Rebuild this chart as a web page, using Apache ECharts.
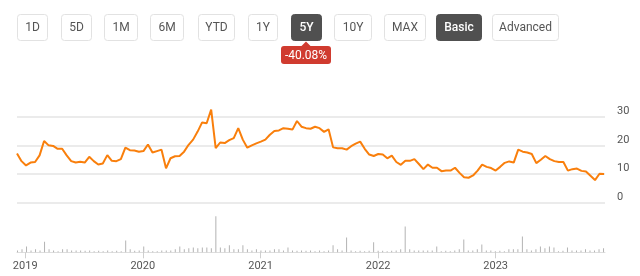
<!DOCTYPE html>
<html>
<head>
<meta charset="utf-8">
<script src="https://cdn.jsdelivr.net/npm/echarts@6/dist/echarts.min.js"></script>
<style>
html, body { margin: 0; padding: 0; background: #fff; }
#chart { width: 640px; height: 276px; }
</style>
</head>
<body>
<div id="chart"></div>
<script>
// sampled every two weeks starting from the first day shown
var startDate = [2018, 11, 8];
var endDate = [2023, 11, 5];
var stepDays = 14;

var prices = [
  17.2, 14.5, 13, 14, 14.2, 16.5, 21.5, 20, 19.8, 18.8,
  18.8, 16.5, 14.5, 14, 14.3, 14, 16, 14.5, 13.3, 13.7,
  16.6, 14.6, 14.5, 15.2, 19.2, 18.3, 18.2, 17.8, 18, 20.3,
  17.5, 18, 18.5, 12, 15.5, 16.2, 16.3, 17.8, 20.2, 22,
  24.8, 28, 27.7, 32.5, 19, 21, 20.8, 21.8, 22.5, 26,
  22, 19.2, 20, 20.7, 21.3, 22, 23.7, 25, 25.2, 26,
  25.8, 25.5, 28.5, 26.5, 26, 25.8, 26.5, 26, 24.7, 25.6,
  19.3, 19, 19, 18.5, 19.7, 20.6, 21.3, 18.8, 16.8, 16.3,
  17, 16.8, 15.5, 16.4, 14.2, 13.2, 14.6, 14.6, 15.2, 13.5,
  11.7, 13.3, 12.2, 12.2, 11, 11.2, 11.2, 12.2, 10.4, 8.9,
  8.7, 9.5, 11.2, 13.3, 12.5, 12.1, 11.2, 12.5, 13.9, 14.4,
  14, 18.5, 17.8, 17.5, 17, 13.8, 15, 16.3, 15.2, 14.5,
  14.2, 14.2, 11.2, 11.7, 11.9, 11.1, 10.9, 9.4, 7.9, 10.1, 10
];

// volume, millions of shares
var volumes = [
  0.5, 0.8, 1.6, 0.5, 0.8, 0.5, 2.9, 0.8, 0.5, 0.3,
  0.8, 0.8, 0.5, 0.5, 0.5, 0.4, 0.5, 0.3, 0.4, 0.3,
  0.5, 0.3, 0.4, 0.3, 3.2, 0.8, 0.4, 0.5, 1.6, 0.5,
  0.3, 0.3, 0.5, 0.5, 0.5, 0.8, 1.6, 0.8, 1.1, 1.3,
  1.1, 1.3, 1.3, 1.1, 9.8, 1.3, 1.1, 1.9, 0.8, 0.8,
  1.9, 0.8, 0.5, 0.8, 0.5, 0.5, 0.5, 0.8, 0.8, 0.5,
  1.3, 0.5, 0.4, 0.5, 0.4, 0.5, 0.3, 0.5, 0.3, 0.5,
  1.9, 0.8, 0.5, 4.0, 0.5, 0.3, 0.4, 0.3, 0.4, 2.7,
  0.4, 0.4, 0.3, 0.4, 0.5, 0.8, 7.0, 0.8, 0.5, 0.5,
  0.5, 0.5, 0.5, 1.6, 0.3, 0.4, 0.3, 0.5, 0.8, 3.5,
  0.5, 0.5, 0.8, 2.1, 0.5, 0.5, 0.3, 0.4, 0.3, 0.8,
  0.8, 0.8, 4.3, 0.8, 0.5, 0.8, 1.6, 1.1, 1.6, 1.3,
  0.3, 0.4, 1.3, 0.5, 0.5, 0.5, 0.8, 0.5, 0.5, 0.8, 1.1
];

var rangeButtons = ['1D', '5D', '1M', '6M', 'YTD', '1Y', '5Y', '10Y', 'MAX', 'Basic', 'Advanced'];
var activeButtons = ['5Y', 'Basic'];
var changeLabel = '-40.08%';

var DAY = 86400000;
var t0 = new Date(startDate[0], startDate[1], startDate[2]).getTime();
var t1 = new Date(endDate[0], endDate[1], endDate[2]).getTime();
var priceData = prices.map(function (v, i) { return [t0 + i * stepDays * DAY, v]; });
var volumeData = volumes.map(function (v, i) { return [t0 + i * stepDays * DAY, v]; });

// button boxes [left, right] in px
var buttonBoxes = [
  [17, 47], [61, 91], [104, 137], [150, 183], [198, 234], [248, 277],
  [291, 321], [334, 371], [384, 425], [436, 481], [492, 558]
];

var graphics = [];
rangeButtons.forEach(function (name, i) {
  var b = buttonBoxes[i];
  var active = activeButtons.indexOf(name) >= 0;
  graphics.push({
    type: 'rect',
    shape: { x: b[0] + 0.5, y: 14.5, width: b[1] - b[0], height: 26, r: 3 },
    style: { fill: active ? '#505050' : '#fff', stroke: active ? '#505050' : '#e2e2e2', lineWidth: 1 }
  });
  graphics.push({
    type: 'text',
    x: (b[0] + b[1]) / 2 + 0.5,
    y: 27.5,
    style: {
      text: name,
      textAlign: 'center',
      textVerticalAlign: 'middle',
      fill: active ? '#fff' : '#555',
      font: (active ? '500 ' : '') + '12px Roboto'
    }
  });
});
graphics.push({
  type: 'polygon',
  shape: { points: [[301, 46.5], [306, 41.5], [311, 46.5]] },
  style: { fill: '#d03b2f' }
});
graphics.push({
  type: 'rect',
  shape: { x: 281, y: 46, width: 50, height: 18, r: 3 },
  style: { fill: '#d03b2f' }
});
graphics.push({
  type: 'text',
  x: 306,
  y: 55.5,
  style: { text: changeLabel, textAlign: 'center', textVerticalAlign: 'middle', fill: '#fff', font: '12px Roboto' }
});

var chart = echarts.init(document.getElementById('chart'));
chart.setOption({
  animation: false,
  backgroundColor: '#fff',
  graphic: graphics,
  grid: [
    { left: 17, right: 35, top: 116.7, height: 86 },
    { left: 17, right: 35, top: 215.5, bottom: 23.7 }
  ],
  xAxis: [
    {
      type: 'time', gridIndex: 0, min: t0, max: t1,
      axisLine: { show: false }, axisTick: { show: false }, axisLabel: { show: false },
      splitLine: { show: false }
    },
    {
      type: 'time', gridIndex: 1, min: t0, max: t1,
      minInterval: 365 * DAY, maxInterval: 366 * DAY,
      axisLine: { lineStyle: { color: '#dedede', width: 1 } },
      axisTick: { show: true, length: 6, lineStyle: { color: '#cfcfcf' } },
      axisLabel: { formatter: '{yyyy}', color: '#555', fontSize: 11, fontFamily: 'Roboto', margin: 8 },
      splitLine: { show: false }
    }
  ],
  yAxis: [
    {
      type: 'value', gridIndex: 0, position: 'right', min: 0, max: 30, interval: 10,
      axisLine: { show: false }, axisTick: { show: false },
      axisLabel: { color: '#555', fontSize: 11, fontFamily: 'Roboto', margin: 12, verticalAlign: 'bottom' },
      splitLine: { lineStyle: { color: '#e4e4e4', width: 1.5 } }
    },
    {
      type: 'value', gridIndex: 1, min: 0, max: 10,
      show: false, splitLine: { show: false }
    }
  ],
  series: [
    {
      type: 'line',
      xAxisIndex: 0, yAxisIndex: 0,
      data: priceData,
      showSymbol: false,
      clip: false,
      lineStyle: { color: '#f97f0c', width: 2 }
    },
    {
      type: 'bar',
      xAxisIndex: 1, yAxisIndex: 1,
      data: volumeData,
      barWidth: 1,
      itemStyle: { color: '#b3b3b3' }
    }
  ]
});
</script>
</body>
</html>
